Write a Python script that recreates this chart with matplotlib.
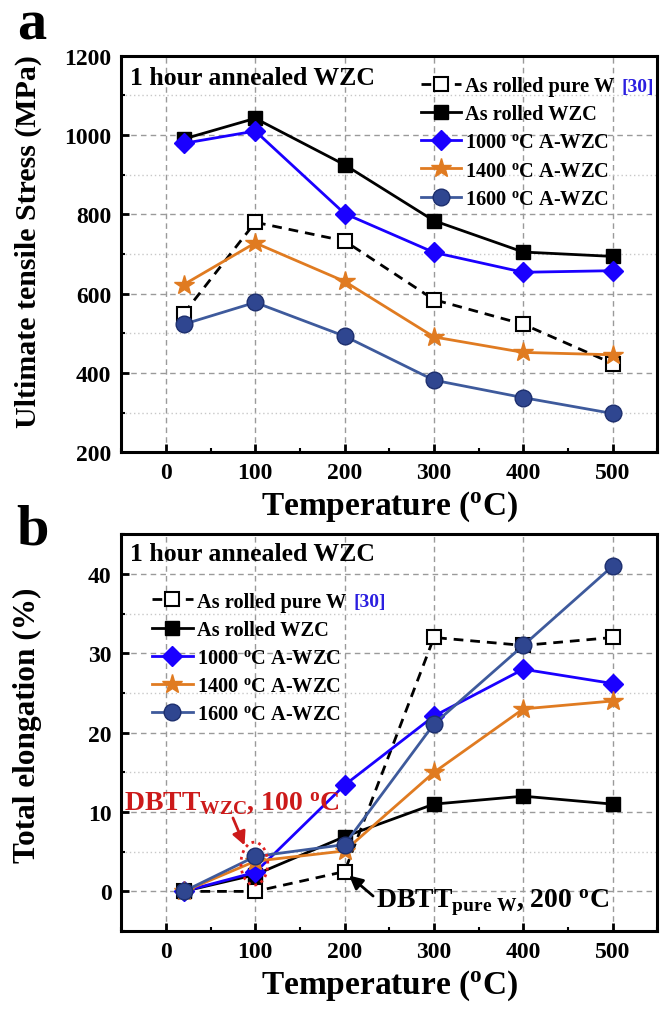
import numpy as np
import matplotlib as mpl
import matplotlib.pyplot as plt
from matplotlib.patches import Ellipse
from matplotlib.ticker import MultipleLocator

mpl.rcParams.update({
    "font.family": "Liberation Serif",
    "font.weight": "bold",
    "axes.labelweight": "bold",
    "mathtext.fontset": "custom",
    "mathtext.rm": "Liberation Serif:bold",
    "mathtext.it": "Liberation Serif:bold",
    "mathtext.bf": "Liberation Serif:bold",
    "mathtext.default": "rm",
    "axes.linewidth": 2.2,
    "xtick.direction": "in",
    "ytick.direction": "in",
    "xtick.major.width": 2,
    "ytick.major.width": 2,
    "xtick.minor.width": 1.5,
    "ytick.minor.width": 1.5,
    "xtick.major.size": 6,
    "ytick.major.size": 6,
    "xtick.minor.size": 3,
    "ytick.minor.size": 3,
})

temps = [20, 100, 200, 300, 400, 500]

uts_pure_w = [550, 780, 733, 585, 523, 424]
uts_wzc = [990, 1042, 925, 784, 705, 694]
uts_1000 = [979, 1010, 802, 704, 654, 658]
uts_1400 = [623, 728, 631, 491, 452, 446]
uts_1600 = [523, 578, 493, 382, 338, 298]

el_pure_w = [0, 0, 2.5, 32, 31, 32]
el_wzc = [0, 2.1, 6.9, 11, 12, 11]
el_1000 = [0, 2.4, 13.4, 22.1, 28, 26.2]
el_1400 = [0, 3.8, 5.1, 15, 23, 24]
el_1600 = [0, 4.4, 5.9, 21.1, 31, 41]

labels = ["As rolled pure W", "As rolled WZC", r"1000 $^o$C A-WZC",
          r"1400 $^o$C A-WZC", r"1600 $^o$C A-WZC"]

styles = [
    dict(color="black", ls=(0, (3.5, 2.5)), marker="s", mfc="white", mec="black", ms=10, mew=1.5),
    dict(color="black", ls="-", marker="s", mfc="black", mec="black", ms=10),
    dict(color="#1a00ff", ls="-", marker="D", mfc="#1a00ff", mec="#1a00ff", ms=10),
    dict(color="#e07b21", ls="-", marker="*", mfc="#e07b21", mec="#e07b21", ms=15),
    dict(color="#3e5a9c", ls="-", marker="o", mfc="#2f4690", mec="#1d2f6e", ms=12),
]


def style_axes(ax, ylim, ymajor, yminor):
    ax.set_xlim(-50, 550)
    ax.set_ylim(*ylim)
    ax.xaxis.set_major_locator(MultipleLocator(100))
    ax.xaxis.set_minor_locator(MultipleLocator(50))
    ax.yaxis.set_major_locator(MultipleLocator(ymajor))
    ax.yaxis.set_minor_locator(MultipleLocator(yminor))
    ax.grid(which="major", ls=(0, (4, 3)), color="#9a9a9a", lw=1)
    ax.grid(which="minor", axis="y", ls=(0, (1, 2)), color="#c8c8c8", lw=1)
    ax.tick_params(labelsize=17, pad=7)
    for t in ax.get_xticklabels() + ax.get_yticklabels():
        t.set_fontweight("bold")
    ax.set_xlabel(r"Temperature ($^o$C)", fontsize=24, labelpad=4)


def add_ref(fig, leg):
    fig.canvas.draw()
    bb = leg.get_texts()[0].get_window_extent()
    x, y = fig.transFigure.inverted().transform((bb.x1 + 7, (bb.y0 + bb.y1) / 2))
    fig.text(x, y, "[30]", color="#2b1fe0", fontsize=14, va="center", fontweight="bold")


fig = plt.figure(figsize=(6.66, 10.12), dpi=100)
ax1 = fig.add_axes([0.182, 0.552, 0.805, 0.392])
ax2 = fig.add_axes([0.182, 0.079, 0.805, 0.392])

leg_kw = dict(frameon=False, fontsize=14.7, handlelength=2.0,
              handletextpad=0.2, labelspacing=0.4)

# (a) ultimate tensile stress
for vals, lab, st in zip([uts_pure_w, uts_wzc, uts_1000, uts_1400, uts_1600], labels, styles):
    ax1.plot(temps, vals, lw=2, label=lab, **st)
style_axes(ax1, (200, 1200), 200, 100)
ax1.set_ylabel("Ultimate tensile Stress (MPa)", fontsize=21.5)
ax1.yaxis.set_label_coords(-0.148, 0.535)
ax1.text(0.017, 0.975, "1 hour annealed WZC", transform=ax1.transAxes,
         fontsize=18.5, va="top", ha="left", fontweight="bold")
leg1 = ax1.legend(loc="upper left", bbox_to_anchor=(0.524, 0.995), **leg_kw)
fig.text(0.025, 0.961, "a", fontsize=42, fontweight="bold", va="baseline")

# (b) total elongation
for vals, lab, st in zip([el_pure_w, el_wzc, el_1000, el_1400, el_1600], labels, styles):
    ax2.plot(temps, vals, lw=2, label=lab, **st)
style_axes(ax2, (-5, 45), 10, 5)
ax2.set_ylabel("Total elongation (%)", fontsize=22.5)
ax2.yaxis.set_label_coords(-0.148, 0.52)
ax2.text(0.017, 0.98, "1 hour annealed WZC", transform=ax2.transAxes,
         fontsize=18.5, va="top", ha="left", fontweight="bold")
leg2 = ax2.legend(loc="upper left", bbox_to_anchor=(0.023, 0.902), **leg_kw)
fig.text(0.025, 0.462, "b", fontsize=42, fontweight="bold", va="baseline")

ax2.add_patch(Ellipse((99, 3.5), 30, 5.4, fill=False, ec="#e02020", ls=(0, (1, 1.5)), lw=2, zorder=5))
ax2.annotate(r"DBTT$_{WZC}$, 100 $^o$C", xy=(88, 5.8), xytext=(-47, 10.4),
             color="#cc1a1a", fontsize=20, fontweight="bold", ha="left", va="baseline",
             arrowprops=dict(arrowstyle="-|>", color="#cc1a1a", lw=2,
                             shrinkA=0, shrinkB=0, relpos=(0.5, 0.0)))
ax2.annotate(r"DBTT$_{pure\ W}$, 200 $^o$C", xy=(205, 2.0), xytext=(235, -1.9),
             color="black", fontsize=20, fontweight="bold", ha="left", va="baseline",
             arrowprops=dict(arrowstyle="-|>", color="black", lw=2,
                             shrinkA=0, shrinkB=0, relpos=(0.0, 0.6)))

add_ref(fig, leg1)
add_ref(fig, leg2)

fig.savefig("out.png", dpi=100)
